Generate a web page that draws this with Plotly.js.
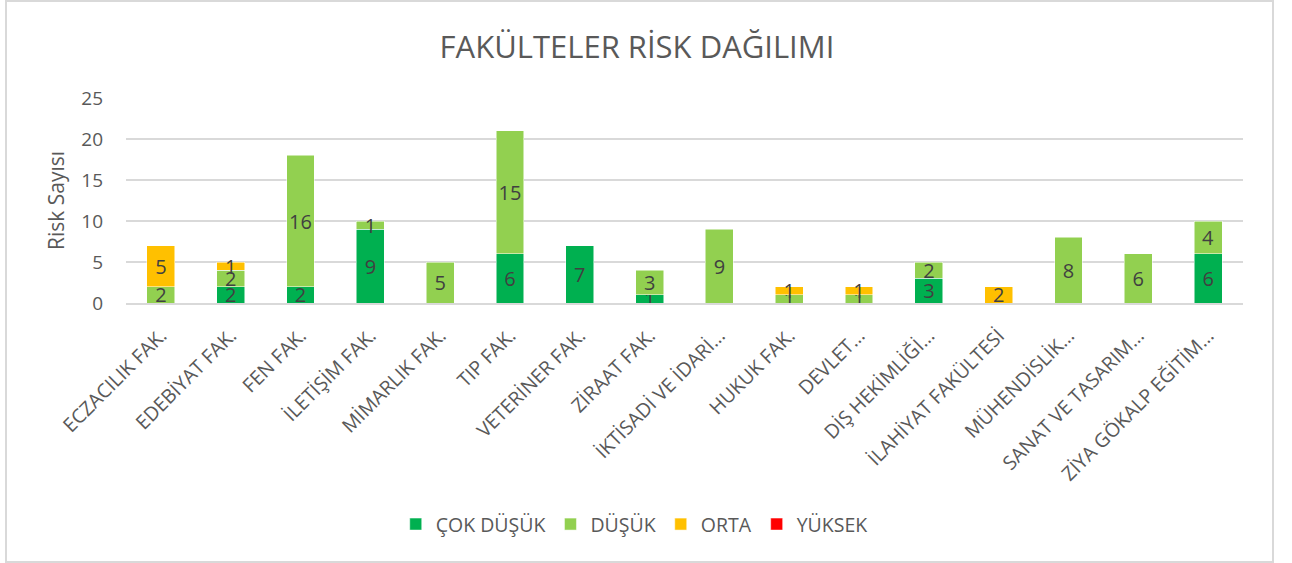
<!DOCTYPE html>
<html>
<head>
<meta charset="utf-8">
<script src="https://cdn.plot.ly/plotly-3.0.1.min.js"></script>
<style>
  html, body { margin: 0; padding: 0; background: #ffffff; }
  #chart { position: absolute; left: 0; top: 0; width: 1292px; height: 563px; }
  #frame { position: absolute; left: 5px; top: 0px; width: 1265px; height: 559px; border: 2px solid #d9d9d9; pointer-events: none; }
</style>
</head>
<body>
<div id="chart"></div>
<div id="frame"></div>
<script>
const categories = [
  "ECZACILIK FAK.", "EDEBİYAT FAK.", "FEN FAK.", "İLETİŞİM FAK.", "MİMARLIK FAK.",
  "TIP FAK.", "VETERİNER FAK.", "ZİRAAT FAK.", "İKTİSADİ VE İDARİ…", "HUKUK FAK.",
  "DEVLET…", "DİŞ HEKİMLİĞİ…", "İLAHİYAT FAKÜLTESİ", "MÜHENDİSLİK…",
  "SANAT VE TASARIM…", "ZİYA GÖKALP EĞİTİM…"
];
const cokDusuk = [null, 2, 2, 9, null, 6, 7, 1, null, null, null, 3, null, null, null, 6];
const dusuk    = [2, 2, 16, 1, 5, 15, null, 3, 9, 1, 1, 2, null, 8, 6, 4];
const orta     = [5, 1, null, null, null, null, null, null, null, 1, 1, null, 2, null, null, null];
const yuksek   = [null, null, null, null, null, null, null, null, null, null, null, null, null, null, null, null];

const seriesNames = ["ÇOK DÜŞÜK", "DÜŞÜK", "ORTA", "YÜKSEK"];
const seriesColors = ["#00B050", "#92D050", "#FFC000", "#FF0000"];
const seriesValues = [cokDusuk, dusuk, orta, yuksek];

const FONT = "Open Sans, Noto Sans, sans-serif";

const traces = seriesValues.map((vals, i) => ({
  type: "bar",
  name: seriesNames[i],
  x: categories,
  y: vals,
  marker: { color: seriesColors[i], line: { color: "#ffffff", width: 0.5 } },
  text: vals.map(v => v === null ? "" : String(v)),
  textposition: "inside",
  insidetextanchor: "middle",
  constraintext: "none",
  textangle: 0,
  textfont: { family: FONT, size: 20, color: "#404040" },
  hoverinfo: "skip"
}));

const layout = {
  width: 1292,
  height: 563,
  paper_bgcolor: "rgba(0,0,0,0)",
  plot_bgcolor: "#ffffff",
  barmode: "stack",
  bargap: 0.6,
  margin: { l: 126, r: 49, t: 98, b: 260 },
  title: {
    text: "FAKÜLTELER RİSK DAĞILIMI",
    font: { family: FONT, size: 31, color: "#595959" },
    x: 0.493, xanchor: "center",
    y: 0.917, yanchor: "middle"
  },
  xaxis: {
    type: "category",
    tickangle: -45,
    tickfont: { family: FONT, size: 19.5, color: "#595959" },
    ticklabelstandoff: 12,
    ticklabelshift: 0,
    showgrid: false,
    showline: true,
    linecolor: "#d9d9d9",
    linewidth: 1.5,
    ticks: "",
    automargin: false
  },
  yaxis: {
    range: [0, 25],
    dtick: 5,
    tickfont: { family: FONT, size: 19, color: "#595959" },
    ticklabelstandoff: 22,
    gridcolor: "#d9d9d9",
    gridwidth: 1.5,
    zeroline: false,
    showline: false,
    ticks: "",
    ticklen: 0,
    automargin: false,
    title: {
      text: "Risk Sayısı",
      font: { family: FONT, size: 21, color: "#595959" },
      standoff: 10
    }
  },
  legend: {
    orientation: "h",
    x: 0.455, xanchor: "center",
    y: -1.08, yanchor: "middle",
    font: { family: FONT, size: 19.5, color: "#595959" },
    traceorder: "normal",
    itemwidth: 30
  },
  showlegend: true
};

Plotly.newPlot("chart", traces, layout, { displayModeBar: false, staticPlot: true });
</script>
</body>
</html>
